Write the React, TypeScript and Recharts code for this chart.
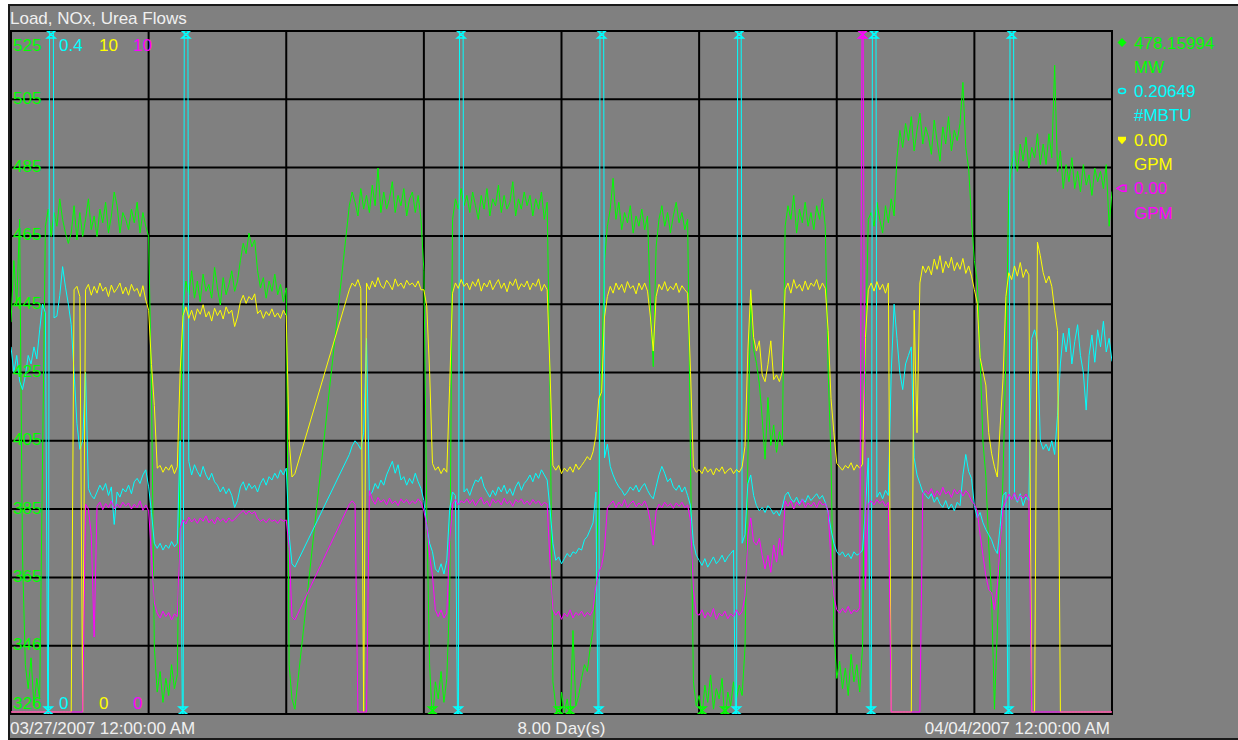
import React from 'react';
import { ComposedChart, Line, XAxis, YAxis, CartesianGrid } from 'recharts';

// ---------- time axis ----------
const STEP_HOURS = 0.5; // one sample every half hour
const DAY_TICKS = [0, 24, 48, 72, 96, 120, 144, 168, 192];
const SPAN_DAYS = 8;
const TITLE = 'Load, NOx, Urea Flows';
const START_LABEL = '03/27/2007 12:00:00 AM';
const END_LABEL = '04/04/2007 12:00:00 AM';

// ---------- scales ----------
const MW_RANGE: [number, number] = [325.6, 525];
const NOX_RANGE: [number, number] = [0, 0.4];
const GPM_RANGE: [number, number] = [0, 10];
const GPM_AXIS: [number, number] = [-0.03, 10]; // keeps zero-flow traces just above the frame
const MW_GRID_STEPS = 10;

const _ = null; // no data recorded

// Unit load, MW (half-hour samples)
const LOAD_MW: (number | null)[] = [
  440, 458, 445, 470, 372, 340, 333, 342, 328, 336, 330, 400, 468, 473, 465, 472, 468, 476, 470, 466,
  463, 466, 474, 464, 472, 465, 470, 476, 467, 471, 465, 473, 469, 475, 466, 471, 478, 474, 466, 472,
  470, 467, 473, 469, 475, 466, 472, 468, 465, 420, 345, 332, 338, 329, 336, 331, 340, 333, 337, 405,
  445, 452, 448, 455, 447, 452, 446, 454, 449, 451, 447, 456, 450, 445, 453, 448, 451, 455, 449, 452,
  458, 463, 460, 466, 462, 464, 455, 450, 453, 447, 452, 449, 454, 448, 451, 446, 450, 340, 330, 327,
  _, _, _, _, _, _, _, _, _, _, _, _, _, _, _, _, _, _, 474, 478,
  475, 471, 479, 473, 477, 472, 480, 474, 485, 472, 478, 473, 476, 481, 472, 477, 474, 479, 471, 476,
  478, 472, 477, 470, 455, 385, 340, 323, 335, 330, 338, 329, 336, 360, 470, 476, 473, 479, 474, 477,
  472, 478, 474, 470, 477, 473, 479, 471, 476, 474, 480, 472, 477, 473, 475, 481, 471, 476, 473, 478,
  474, 477, 471, 476, 473, 478, 470, 475, 420, 335, 328, 322, 332, 326, 330, 324, 350, 328, 331, 336,
  340, 338, 345, 350, 362, 394, 426, 458, 468, 473, 482, 470, 475, 467, 472, 469, 474, 466, 471, 468,
  473, 467, 471, 445, 427, 462, 470, 474, 468, 472, 466, 471, 475, 469, 472, 467, 470, 400, 335, 328,
  331, 325, 334, 329, 337, 327, 333, 330, 336, 323, 332, 328, 335, 330, 334, 331, 345, 400, 449, 432,
  428, 422, 412, 400, 418, 404, 410, 402, 408, 404, 468, 474, 470, 477, 466, 473, 469, 475, 468, 472,
  467, 474, 470, 476, 468, 426, 400, 350, 336, 341, 333, 339, 331, 343, 335, 340, 332, 345, 430, 470,
  472, 468, 475, 470, 466, 474, 469, 476, 471, 488, 496, 491, 498, 493, 500, 490, 496, 501, 492, 497,
  494, 489, 499, 493, 487, 497, 492, 500, 490, 496, 493, 498, 510, 491, 485, 470, 458, 452, 430, 405,
  395, 375, 360, 327, 350, 372, 395, 430, 478, 486, 490, 484, 492, 487, 494, 485, 491, 488, 495, 486,
  492, 486, 495, 488, 515, 484, 490, 479, 486, 481, 488, 479, 484, 478, 486, 480, 483, 477, 485, 481,
  484, 479, 486, 468, 478.15994,
];

// NOx, #/MBTU
const NOX_LB_MBTU: (number | null)[] = [
  0.215, 0.2, 0.21, 0.195, 0.19, 0.198, 0.21, 0.205, 0.215, 0.208, 0.225, 0.24, 0.235, -0.05, 1, 0.232, 0.233, 0.245, 0.262, 0.25,
  0.24, 0.228, 0.2, 0.17, 0.155, 0.16, 0.2, 0.132, 0.128, 0.126, 0.13, 0.134, 0.131, 0.135, 0.128, 0.133, 0.111, 0.13, 0.127, 0.132,
  0.13, 0.134, 0.129, 0.136, 0.138, 0.135, 0.14, 0.143, 0.133, 0.118, 0.1, 0.097, 0.1, 0.096, 0.099, 0.097, 0.101, 0.098, 0.1, 0.16,
  -0.05, 1, 0.148, 0.14, 0.146, 0.142, 0.139, 0.145, 0.14, 0.137, 0.141, 0.136, 0.134, 0.13, 0.133, 0.129, 0.132, 0.128, 0.121, 0.125,
  0.133, 0.136, 0.131, 0.135, 0.132, 0.134, 0.13, 0.135, 0.138, 0.134, 0.139, 0.137, 0.141, 0.138, 0.143, 0.14, 0.144, 0.105, 0.088, 0.086,
  _, _, _, _, _, _, _, _, _, _, _, _, _, _, _, _, _, _, 0.152, 0.157,
  0.16, 0.158, 0.155, 0.165, 0.22, 0.128, 0.13, 0.135, 0.132, 0.137, 0.134, 0.14, 0.144, 0.148, 0.141, 0.146, 0.137, 0.139, 0.134, 0.138,
  0.135, 0.141, 0.136, 0.132, 0.125, 0.11, 0.1, 0.095, 0.085, 0.083, 0.088, 0.082, 0.09, 0.12, 0.13, 0.128, -0.05, 1, 0.13, 0.132,
  0.128, 0.133, 0.137, 0.136, 0.139, 0.133, 0.13, 0.127, 0.131, 0.128, 0.133, 0.13, 0.134, 0.129, 0.132, 0.128, 0.133, 0.136, 0.131, 0.135,
  0.137, 0.14, 0.136, 0.141, 0.138, 0.143, 0.14, 0.137, 0.12, 0.1, 0.09, 0.092, 0.088, 0.091, 0.094, 0.092, 0.095, 0.094, 0.097, 0.096,
  0.102, 0.104, 0.108, 0.112, 0.13, -0.05, 1, 0.15, 0.158, 0.145, 0.14, 0.136, 0.133, 0.131, 0.128, 0.13, 0.133, 0.131, 0.134, 0.13,
  0.133, 0.135, 0.131, 0.128, 0.126, 0.133, 0.14, 0.145, 0.141, 0.136, 0.138, 0.133, 0.131, 0.134, 0.13, 0.133, 0.128, 0.122, 0.1, 0.093,
  0.09, 0.087, 0.091, 0.086, 0.089, 0.092, 0.088, 0.09, 0.093, 0.089, 0.092, 0.094, 0.096, -0.05, 1, 0.1, 0.105, 0.135, 0.14, 0.128,
  0.122, 0.119, 0.121, 0.118, 0.122, 0.12, 0.117, 0.119, 0.116, 0.121, 0.128, 0.13, 0.126, 0.124, 0.127, 0.123, 0.126, 0.124, 0.128, 0.125,
  0.127, 0.129, 0.126, 0.128, 0.124, 0.118, 0.108, 0.1, 0.095, 0.093, 0.095, 0.092, 0.094, 0.091, 0.095, 0.093, 0.094, 0.096, 0.12, 0.15,
  -0.05, 1, 0.127, 0.13, 0.126, 0.131, 0.128, 0.2, 0.24, 0.22, 0.2, 0.19, 0.205, 0.21, 0.215, 0.15, 0.14, 0.135, 0.13, 0.128,
  0.126, 0.129, 0.124, 0.127, 0.123, 0.121, 0.125, 0.12, 0.123, 0.119, 0.124, 0.122, 0.14, 0.152, 0.142, 0.138, 0.122, 0.115, 0.118, 0.112,
  0.108, 0.105, 0.102, 0.097, 0.094, 0.11, 0.128, 0.13, -0.05, 1, 0.128, 0.124, 0.129, 0.122, 0.127, 0.125, 0.22, 0.225, 0.218, 0.16,
  0.155, 0.158, 0.154, 0.16, 0.152, 0.175, 0.205, 0.223, 0.212, 0.226, 0.205, 0.218, 0.228, 0.21, 0.2, 0.178, 0.21, 0.222, 0.206, 0.225,
  0.215, 0.23, 0.212, 0.22, 0.20649,
];

// Urea flow A, GPM
const UREA_A_GPM: (number | null)[] = [
  0, 0, 0, 0, 0, 0, 0, 0, 0, 0, 0, 0, 0, 0, 0, 0, 0, 0, 0, 0,
  0, 0, 6.2, 6.25, 6.1, 0, 6.2, 6.28, 6.12, 6.25, 6.15, 6.3, 6.18, 6.24, 6.1, 6.27, 6.16, 6.22, 6.3, 6.14,
  6.24, 6.12, 6.28, 6.18, 6.22, 6.1, 6.26, 6.05, 5.9, 5.1, 4.5, 3.58, 3.62, 3.52, 3.6, 3.55, 3.63, 3.5, 3.6, 5.0,
  5.82, 5.95, 5.78, 5.9, 5.75, 5.92, 5.84, 5.98, 5.8, 5.88, 5.74, 5.93, 5.82, 5.9, 5.77, 5.95, 5.85, 5.9, 5.66, 5.8,
  6.02, 6.12, 6.0, 6.1, 6.05, 6.14, 5.85, 5.9, 5.78, 5.88, 5.82, 5.92, 5.8, 5.86, 5.78, 5.9, 5.82, 4.0, 3.45, 3.5,
  _, _, _, _, _, _, _, _, _, _, _, _, _, _, _, _, _, _, 6.2, 6.3,
  6.25, 6.35, 6.22, 0, 6.3, 6.2, 6.33, 6.24, 6.38, 6.26, 6.22, 6.34, 6.28, 6.2, 6.36, 6.25, 6.3, 6.22, 6.34, 6.27,
  6.3, 6.24, 6.33, 6.2, 6.2, 5.96, 5.0, 3.65, 3.55, 3.6, 3.5, 3.58, 3.52, 4.8, 6.15, 6.3, 6.22, 6.35, 6.25, 6.3,
  6.2, 6.32, 6.25, 6.36, 6.18, 6.3, 6.24, 6.34, 6.2, 6.28, 6.35, 6.22, 6.3, 6.17, 6.32, 6.26, 6.36, 6.2, 6.29, 6.24,
  6.33, 6.2, 6.3, 6.25, 6.36, 6.18, 6.28, 6.2, 5.0, 3.62, 3.55, 3.62, 3.5, 3.58, 3.53, 3.6, 3.52, 3.64, 3.56, 3.62,
  3.68, 3.75, 3.7, 3.82, 4.05, 4.6, 4.7, 5.8, 6.1, 6.25, 6.15, 6.3, 6.2, 6.28, 6.16, 6.32, 6.22, 6.26, 6.14, 6.3,
  6.2, 6.3, 6.18, 5.8, 5.3, 6.1, 6.28, 6.2, 6.32, 6.18, 6.25, 6.2, 6.3, 6.16, 6.26, 6.2, 6.15, 5.0, 3.6, 3.52,
  3.56, 3.5, 3.6, 3.52, 3.57, 3.48, 3.58, 3.53, 3.6, 3.5, 3.55, 3.58, 3.5, 3.56, 3.52, 3.6, 3.9, 5.3, 6.2, 5.5,
  5.3, 5.45, 4.95, 4.85, 5.1, 5.45, 4.88, 4.95, 4.85, 5.0, 6.2, 6.3, 6.15, 6.35, 6.22, 6.28, 6.18, 6.33, 6.2, 6.3,
  6.25, 6.35, 6.2, 6.3, 6.22, 5.6, 4.6, 4.1, 3.65, 3.6, 3.55, 3.62, 3.58, 3.66, 3.55, 3.63, 3.58, 3.64, 5.5, 6.2,
  6.3, 6.18, 6.32, 6.2, 6.28, 6.15, 6.3, 0, 0, 0, 0, 0, 0, 0, 0, 5.9, 4.1, 6.3, 6.55, 6.45,
  6.55, 6.42, 6.65, 6.5, 6.7, 6.45, 6.62, 6.52, 6.68, 6.48, 6.6, 6.5, 6.66, 6.44, 6.55, 6.4, 6.2, 6.0, 5.2, 5.0,
  4.8, 4.1, 3.8, 3.6, 3.45, 4.2, 4.9, 6.1, 6.45, 6.35, 6.55, 6.4, 6.6, 6.38, 6.5, 6.42, 0, 0, 6.9, 6.7,
  6.45, 6.3, 6.4, 6.25, 5.9, 5.6, 0, 0, 0, 0, 0, 0, 0, 0, 0, 0, 0, 0, 0, 0,
  0, 0, 0, 0, 0,
];

// Urea flow B, GPM
const UREA_B_GPM: (number | null)[] = [
  0, 0, 0, 0, 0, 0, 0, 0, 0, 0, 0, 0, 0, 0, 0, 0, 0, 0, 0, 0,
  0, 0, 0, 0, 0, 0, 3.05, 2.98, 2.6, 1.1, 3.02, 3.08, 2.97, 3.06, 3.0, 3.1, 2.98, 3.05, 3.0, 3.08,
  3.02, 3.07, 2.98, 3.05, 3.0, 3.1, 2.96, 3.04, 2.95, 2.3, 1.6, 1.45, 1.38, 1.48, 1.4, 1.46, 1.35, 1.44, 1.4, 2.7,
  2.82, 2.76, 2.86, 2.79, 2.84, 2.77, 2.85, 2.8, 2.88, 2.78, 2.83, 2.76, 2.86, 2.8, 2.84, 2.78, 2.85, 2.8, 2.83, 2.88,
  2.92, 2.96, 2.9, 2.95, 2.91, 2.94, 2.84, 2.8, 2.83, 2.78, 2.84, 2.8, 2.82, 2.77, 2.83, 2.8, 2.82, 2.4, 1.4, 1.35,
  _, _, _, _, _, _, _, _, _, _, _, _, _, _, _, _, _, _, 3.05, 3.1,
  3.05, 0, 0, 0, 0, 3.25, 3.12, 3.05, 3.15, 3.08, 3.12, 3.04, 3.14, 3.06, 3.1, 3.03, 3.13, 3.07, 3.12, 3.05,
  3.1, 3.06, 3.13, 3.08, 2.95, 2.75, 2.3, 2.0, 1.5, 1.4, 1.5, 1.38, 1.45, 2.5, 3.05, 3.12, 3.04, 3.1, 3.07, 3.13,
  3.06, 3.12, 3.03, 3.1, 3.15, 3.05, 3.1, 3.02, 3.13, 3.07, 3.11, 3.04, 3.14, 3.06, 3.1, 3.02, 3.12, 3.08, 3.13, 3.05,
  3.1, 3.04, 3.12, 3.06, 3.1, 3.03, 3.08, 3.05, 2.2, 1.5, 1.42, 1.48, 1.36, 1.45, 1.4, 1.5, 1.38, 1.46, 1.42, 1.48,
  1.4, 1.46, 1.42, 1.5, 1.85, 2.05, 2.15, 2.4, 3.0, 3.05, 3.1, 3.0, 3.08, 3.02, 3.12, 3.0, 3.06, 3.1, 3.01, 3.07,
  3.03, 3.1, 3.0, 2.8, 2.45, 2.95, 3.05, 3.0, 3.08, 3.02, 3.06, 2.99, 3.07, 3.02, 3.08, 3.0, 3.04, 2.8, 1.8, 1.45,
  1.42, 1.5, 1.38, 1.46, 1.4, 1.52, 1.36, 1.45, 1.41, 1.48, 1.37, 1.44, 1.4, 1.5, 1.42, 1.48, 1.7, 2.6, 2.85, 2.5,
  2.45, 2.55, 2.3, 2.1, 2.3, 2.05, 2.45, 2.2, 2.55, 2.3, 3.1, 3.02, 3.1, 2.98, 3.08, 3.03, 3.12, 3.0, 3.07, 3.02,
  3.08, 3.0, 3.1, 3.04, 3.06, 2.95, 2.2, 1.7, 1.5, 1.45, 1.52, 1.46, 1.55, 1.44, 1.5, 1.47, 1.53, 12, 1.8, 3.05,
  3.1, 3.04, 3.12, 3.06, 3.1, 3.02, 3.08, 0, 0, 0, 0, 0, 0, 0, 0, 0, 0, 0, 3.2, 3.25,
  3.2, 3.28, 3.16, 3.25, 3.18, 3.3, 3.2, 3.24, 3.15, 3.27, 3.2, 3.26, 3.17, 3.25, 3.2, 3.1, 3.05, 2.95, 2.6, 2.3,
  2.0, 1.8, 1.75, 1.5, 1.85, 2.45, 3.0, 3.1, 3.2, 3.12, 3.22, 3.1, 3.18, 3.14, 3.2, 3.12, 0, 0, 0, 0,
  0, 0, 0, 0, 0, 0, 0, 0, 0, 0, 0, 0, 0, 0, 0, 0, 0, 0, 0, 0,
  0, 0, 0, 0, 0,
];

// ---------- layout ----------
const WIDTH = 1238;
const HEIGHT = 740;
const PLOT = { left: 11, top: 31, right: 1112, bottom: 714 };
const MARGIN = { top: PLOT.top, left: PLOT.left, right: WIDTH - PLOT.right, bottom: HEIGHT - PLOT.bottom };
const FONT = "'Liberation Sans', Arial, sans-serif";
const FONT_SIZE = 17;
const TEXT_COLOR = '#F0F0F0';
const PANEL_GRAY = '#808080';

type Series = {
  key: string;
  color: string;
  range: [number, number];
  axis: [number, number];
  values: (number | null)[];
  ticks: number[];
  scaleX: number;
  unit: string;
  digits: number;
  tickText: (v: number) => string;
  marker: 'diamond' | 'ring' | 'solidDiamond' | 'openDiamond';
};

const mwTicks = Array.from({ length: MW_GRID_STEPS + 1 }, (_v, k) =>
  MW_RANGE[0] + (k * (MW_RANGE[1] - MW_RANGE[0])) / MW_GRID_STEPS
);

const SERIES: Series[] = [
  { key: 'load', color: '#00FF00', range: MW_RANGE, axis: MW_RANGE, values: LOAD_MW, ticks: mwTicks, scaleX: 13, unit: 'MW', digits: 5, tickText: (v) => String(Math.round(v)), marker: 'diamond' },
  { key: 'nox', color: '#00FFFF', range: NOX_RANGE, axis: NOX_RANGE, values: NOX_LB_MBTU, ticks: NOX_RANGE, scaleX: 59, unit: '#MBTU', digits: 5, tickText: (v) => String(v), marker: 'ring' },
  { key: 'ureaA', color: '#FFFF00', range: GPM_RANGE, axis: GPM_AXIS, values: UREA_A_GPM, ticks: GPM_RANGE, scaleX: 99, unit: 'GPM', digits: 2, tickText: (v) => String(v), marker: 'solidDiamond' },
  { key: 'ureaB', color: '#FF00FF', range: GPM_RANGE, axis: GPM_AXIS, values: UREA_B_GPM, ticks: GPM_RANGE, scaleX: 133, unit: 'GPM', digits: 2, tickText: (v) => String(v), marker: 'openDiamond' },
];

const rows = LOAD_MW.map((_v, i) => {
  const row: Record<string, number | null> = { t: i * STEP_HOURS };
  SERIES.forEach((s) => {
    row[s.key] = s.values[i];
  });
  return row;
});

// Scale label drawn inside the plot: top value under the top edge, bottom value above the bottom edge.
function ScaleLabel(props: any) {
  const { y, payload, series } = props;
  const s: Series = series;
  const v = payload.value as number;
  let baseline = y + 4.5;
  if (v >= s.ticks[s.ticks.length - 1] - 1e-6) baseline = PLOT.top + 19.5;
  else if (v <= s.ticks[0] + 1e-6) baseline = PLOT.bottom - 5.5;
  return (
    <text x={s.scaleX} y={baseline} fill={s.color} fontSize={FONT_SIZE} fontFamily={FONT}>
      {s.tickText(v)}
    </text>
  );
}

// Off-scale samples are flagged with a small hourglass at the plot edge.
const clipFlag = (s: Series) => (props: any) => {
  const { cx, index, payload } = props;
  const k = `${s.key}-flag-${index}`;
  const v = payload ? payload[s.key] : null;
  if (v == null || cx == null) return <g key={k} />;
  let y: number | null = null;
  if (v > s.range[1]) y = PLOT.top + 3.5;
  else if (v < s.range[0]) y = PLOT.bottom - 3.5;
  if (y == null) return <g key={k} />;
  return (
    <path
      key={k}
      d={`M${cx - 4},${y - 3.5}H${cx + 4}L${cx - 4},${y + 3.5}H${cx + 4}Z`}
      stroke={s.color}
      strokeWidth={1.5}
      fill="none"
    />
  );
};

function LegendMarker({ kind, color, x, y }: { kind: Series['marker']; color: string; x: number; y: number }) {
  if (kind === 'diamond')
    return <polygon points={`${x},${y - 4.5} ${x + 4.5},${y} ${x},${y + 4.5} ${x - 4.5},${y}`} fill={color} />;
  if (kind === 'ring') return <ellipse cx={x} cy={y} rx={3.5} ry={2.5} fill="none" stroke={color} strokeWidth={1.5} />;
  if (kind === 'solidDiamond')
    return <polygon points={`${x - 4},${y - 3} ${x + 4},${y - 3} ${x + 4},${y} ${x},${y + 4.5} ${x - 4},${y}`} fill={color} />;
  return (
    <polygon
      points={`${x - 5},${y} ${x},${y - 3} ${x + 4},${y - 3} ${x + 4},${y + 3} ${x},${y + 3}`}
      fill="none"
      stroke={color}
      strokeWidth={1.5}
    />
  );
}

export default function App() {
  const rowGap = 24.3;
  const legendX = 1134;
  return (
    <div style={{ position: 'absolute', left: 0, top: 0, width: WIDTH, height: HEIGHT, background: '#FFFFFF', overflow: 'hidden' }}>
      <div
        style={{
          position: 'absolute',
          left: 8,
          top: 4,
          width: WIDTH,
          height: HEIGHT - 4,
          background: PANEL_GRAY,
          border: '2px solid #1A1A1A',
          boxSizing: 'border-box',
        }}
      />
      <div
        style={{
          position: 'absolute',
          left: PLOT.left - 1,
          top: PLOT.top - 1,
          width: PLOT.right - PLOT.left + 2,
          height: PLOT.bottom - PLOT.top + 2,
          border: '2px solid #000',
          boxSizing: 'border-box',
        }}
      />
      <div style={{ position: 'absolute', left: 0, top: 0 }}>
        <ComposedChart width={WIDTH} height={HEIGHT} data={rows} margin={MARGIN}>
          <XAxis
            xAxisId="time"
            dataKey="t"
            type="number"
            domain={[DAY_TICKS[0], DAY_TICKS[DAY_TICKS.length - 1]]}
            ticks={DAY_TICKS}
            allowDataOverflow
            hide
          />
          {SERIES.map((s) => (
            <YAxis
              key={s.key}
              yAxisId={s.key}
              type="number"
              domain={s.axis}
              ticks={s.ticks}
              interval={0}
              allowDataOverflow
              mirror
              axisLine={false}
              tickLine={false}
              tick={(p: any) => <ScaleLabel key={`${s.key}-${p.index}`} {...p} series={s} />}
            />
          ))}
          <CartesianGrid xAxisId="time" yAxisId="load" stroke="#000" strokeWidth={2} fill="none" />
          {SERIES.map((s) => (
            <Line
              key={s.key}
              xAxisId="time"
              yAxisId={s.key}
              dataKey={s.key}
              type="linear"
              stroke={s.color}
              strokeWidth={1}
              connectNulls
              dot={clipFlag(s)}
              activeDot={false}
              isAnimationActive={false}
            />
          ))}
        </ComposedChart>
      </div>
      <svg width={WIDTH} height={HEIGHT} style={{ position: 'absolute', left: 0, top: 0, pointerEvents: 'none' }}>
        <g fontFamily={FONT} fontSize={FONT_SIZE}>
          <text x={10} y={24} fill={TEXT_COLOR}>{TITLE}</text>
          <text x={10} y={734} fill={TEXT_COLOR}>{START_LABEL}</text>
          <text x={(PLOT.left + PLOT.right) / 2} y={734} fill={TEXT_COLOR} textAnchor="middle">
            {`${SPAN_DAYS.toFixed(2)} Day(s)`}
          </text>
          <text x={PLOT.right - 2} y={734} fill={TEXT_COLOR} textAnchor="end">{END_LABEL}</text>
          {SERIES.map((s, k) => {
            const last = s.values[s.values.length - 1] ?? 0;
            const top = 48.5 + 2 * k * rowGap;
            return (
              <g key={s.key}>
                <LegendMarker kind={s.marker} color={s.color} x={1122} y={top - 6} />
                <text x={legendX} y={top} fill={s.color}>{last.toFixed(s.digits)}</text>
                <text x={legendX} y={top + rowGap} fill={s.color}>{s.unit}</text>
              </g>
            );
          })}
        </g>
      </svg>
    </div>
  );
}
